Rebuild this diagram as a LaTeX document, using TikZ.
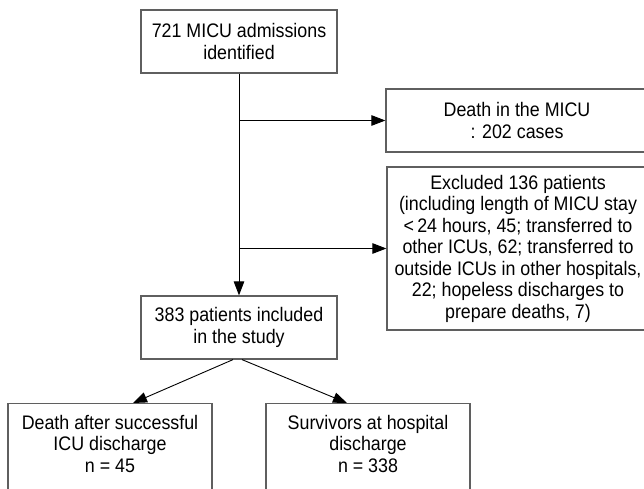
\documentclass[tikz,border=0pt]{standalone}
\usepackage{fontspec}
\setmainfont{Liberation Sans}[FakeStretch=0.91]
\usetikzlibrary{arrows.meta,calc}
\definecolor{boxgray}{RGB}{95,95,95}
\begin{document}
\begin{tikzpicture}[x=1pt,y=-1pt,
  txt/.style={align=center, inner sep=0pt, font=\fontsize{19.6}{21.5}\selectfont},
  box/.style={txt, draw=boxgray, line width=1.2pt, rectangle},
  arr/.style={draw=black, line width=0.9pt, -{Triangle[length=14pt,width=10.5pt]}}]
\useasboundingbox (0,0) rectangle (644,488);
\clip (0,0) rectangle (644,488);
\node[box, minimum width=196pt, minimum height=63pt] (top) at (239,41.5) {721 MICU admissions\\identified};
\node[box, minimum width=262pt, minimum height=63pt] (death) at (517,120.5) {Death in the MICU\\: 202 cases};
\node[box, minimum width=262pt, minimum height=163pt] (excl) at (518,248.5) {Excluded 136 patients\\(including length of MICU stay\\<\,24 hours, 45; transferred to\\other ICUs, 62; transferred to\\outside ICUs in other hospitals,\\22; hopeless discharges to\\prepare deaths, 7)};
\node[box, minimum width=196pt, minimum height=63pt] (inc) at (239,327.5) {383 patients included\\in the study};
\node[box, minimum width=204pt, minimum height=95pt, anchor=north] (d45) at (110,403) {};
\node[txt] (t45) at (110,443.5) {Death after successful\\ICU discharge\\n = 45};
\node[box, minimum width=204pt, minimum height=95pt, anchor=north] (s338) at (368,403) {};
\node[txt] (t338) at (368,443.5) {Survivors at hospital\\discharge\\n = 338};
\draw[arr] (top.south) -- (inc.north);
\draw[arr] (top.south |- death.west) -- (death.west);
\draw[arr] (top.south |- excl.west) -- (excl.west);
\draw[arr] ($(inc.south)+(-6,0)$) -- ($(d45.north)+(23,0)$);
\draw[arr] ($(inc.south)+(3,0)$) -- ($(s338.north)+(-21,0)$);
\end{tikzpicture}
\end{document}
